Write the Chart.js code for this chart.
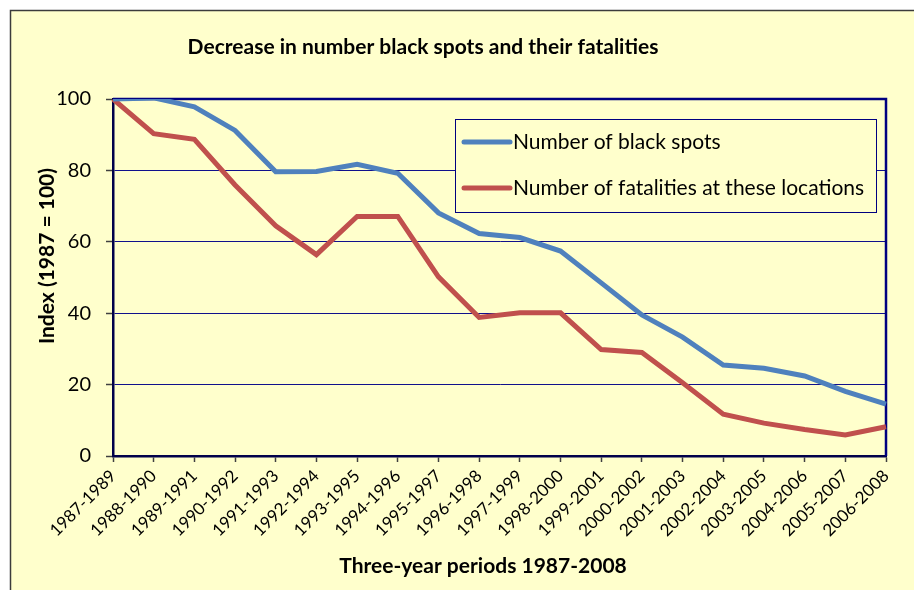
<!DOCTYPE html>
<html>
<head>
<meta charset="utf-8">
<title>Decrease in number black spots and their fatalities</title>
<script src="https://cdn.jsdelivr.net/npm/chart.js@4"></script>
<style>
  html, body { margin: 0; padding: 0; background: #ffffff; }
  #wrap { width: 914px; height: 590px; }
</style>
</head>
<body>
<div id="wrap"><canvas id="chart" width="914" height="590"></canvas></div>
<script>
// Three-year periods
const periods = [
  '1987-1989', '1988-1990', '1989-1991', '1990-1992', '1991-1993',
  '1992-1994', '1993-1995', '1994-1996', '1995-1997', '1996-1998',
  '1997-1999', '1998-2000', '1999-2001', '2000-2002', '2001-2003',
  '2002-2004', '2003-2005', '2004-2006', '2005-2007', '2006-2008'
];

// Index values (1987 = 100)
const blackSpots = [100, 100.3, 97.8, 91.2, 79.6, 79.7, 81.7, 79.2, 68.1, 62.3,
                    61.2, 57.4, 48.5, 39.5, 33.3, 25.5, 24.6, 22.4, 18.1, 14.5];
const fatalities = [100, 90.3, 88.7, 75.9, 64.5, 56.4, 67.1, 67.1, 50.2, 38.8,
                    40.1, 40.1, 29.8, 29.0, 20.5, 11.7, 9.2, 7.4, 5.9, 8.2];

const yTicks = [0, 20, 40, 60, 80, 100];

const seriesNames = ['Number of black spots', 'Number of fatalities at these locations'];
const seriesColors = ['#4F81BD', '#C0504D'];

const FONT = 'Lato, "Open Sans", sans-serif';
const BG = '#FFFFCC';
const NAVY = '#000080';

// Page background with the framed yellow panel
const backdrop = {
  id: 'backdrop',
  beforeDraw(chart) {
    const { ctx, width, height } = chart;
    ctx.save();
    ctx.fillStyle = '#ffffff';
    ctx.fillRect(0, 0, width, height);
    ctx.fillStyle = BG;
    ctx.fillRect(10, 10, width - 10, height - 10);
    ctx.strokeStyle = '#3c3c3c';
    ctx.lineWidth = 1.5;
    ctx.beginPath();
    ctx.moveTo(10.5, height);
    ctx.lineTo(10.5, 10.5);
    ctx.lineTo(width, 10.5);
    ctx.stroke();
    ctx.restore();
  }
};

// Top and right edges of the plot area
const plotFrame = {
  id: 'plotFrame',
  beforeDatasetsDraw(chart) {
    const { ctx, chartArea: a } = chart;
    ctx.save();
    ctx.strokeStyle = NAVY;
    ctx.lineWidth = 2.5;
    ctx.beginPath();
    ctx.moveTo(a.left, a.top);
    ctx.lineTo(a.right, a.top);
    ctx.lineTo(a.right, a.bottom);
    ctx.stroke();
    ctx.restore();
  }
};

// Chart title and axis titles
const titles = {
  id: 'titles',
  afterDraw(chart) {
    const { ctx } = chart;
    ctx.save();
    ctx.fillStyle = '#000000';
    ctx.textAlign = 'center';
    ctx.textBaseline = 'middle';
    ctx.font = 'bold 21px ' + FONT;
    ctx.fillText('Decrease in number black spots and their fatalities', 423, 47);
    ctx.fillText('Three-year periods 1987-2008', 483, 566);
    ctx.translate(47, 256);
    ctx.rotate(-Math.PI / 2);
    ctx.fillText('Index (1987 = 100)', 0, 0);
    ctx.restore();
  }
};

// Boxed legend inside the plot area
const boxLegend = {
  id: 'boxLegend',
  afterDatasetsDraw(chart) {
    const { ctx } = chart;
    const x = 455, y = 119, w = 421, h = 93;
    ctx.save();
    ctx.fillStyle = BG;
    ctx.fillRect(x, y, w, h);
    ctx.strokeStyle = NAVY;
    ctx.lineWidth = 1;
    ctx.strokeRect(x + 0.5, y + 0.5, w, h);
    ctx.font = '21px ' + FONT;
    ctx.textBaseline = 'middle';
    ctx.textAlign = 'left';
    chart.data.datasets.forEach((ds, i) => {
      const cy = y + 23 + i * 46;
      ctx.strokeStyle = ds.borderColor;
      ctx.lineWidth = 5;
      ctx.lineCap = 'round';
      ctx.beginPath();
      ctx.moveTo(x + 9, cy);
      ctx.lineTo(x + 55, cy);
      ctx.stroke();
      ctx.fillStyle = '#000000';
      ctx.fillText(ds.label, x + 58, cy);
    });
    ctx.restore();
  }
};

new Chart(document.getElementById('chart'), {
  type: 'line',
  data: {
    labels: periods,
    datasets: [
      { label: seriesNames[0], data: blackSpots, borderColor: seriesColors[0], backgroundColor: seriesColors[0] },
      { label: seriesNames[1], data: fatalities, borderColor: seriesColors[1], backgroundColor: seriesColors[1] }
    ]
  },
  options: {
    responsive: false,
    animation: false,
    layout: { padding: { left: 13, top: 99, right: 28, bottom: 0 } },
    elements: {
      line: { borderWidth: 5, tension: 0, fill: false },
      point: { radius: 0, hoverRadius: 0 }
    },
    plugins: {
      legend: { display: false },
      title: { display: false },
      tooltip: { enabled: false }
    },
    scales: {
      x: {
        type: 'category',
        offset: false,
        grid: {
          drawOnChartArea: false,
          drawTicks: true,
          tickLength: 6,
          tickColor: '#404040',
          tickWidth: 1.5
        },
        border: { display: true, color: '#00004a', width: 2.5 },
        ticks: {
          autoSkip: false,
          minRotation: 45,
          maxRotation: 45,
          padding: 4,
          color: '#000000',
          font: { family: FONT, size: 17 }
        },
        afterFit(scale) { scale.height = 134; }
      },
      y: {
        min: 0,
        max: 100,
        afterBuildTicks(scale) { scale.ticks = yTicks.map(v => ({ value: v })); },
        grid: {
          color: '#10108c',
          lineWidth: 1,
          drawTicks: true,
          tickLength: 7,
          tickColor: '#404040',
          tickWidth: 1.5
        },
        border: { display: true, color: '#00004a', width: 2.5 },
        ticks: {
          padding: 15,
          color: '#000000',
          font: { family: FONT, size: 20 }
        },
        afterFit(scale) { scale.width = 100; }
      }
    }
  },
  plugins: [backdrop, plotFrame, boxLegend, titles]
});
</script>
</body>
</html>
